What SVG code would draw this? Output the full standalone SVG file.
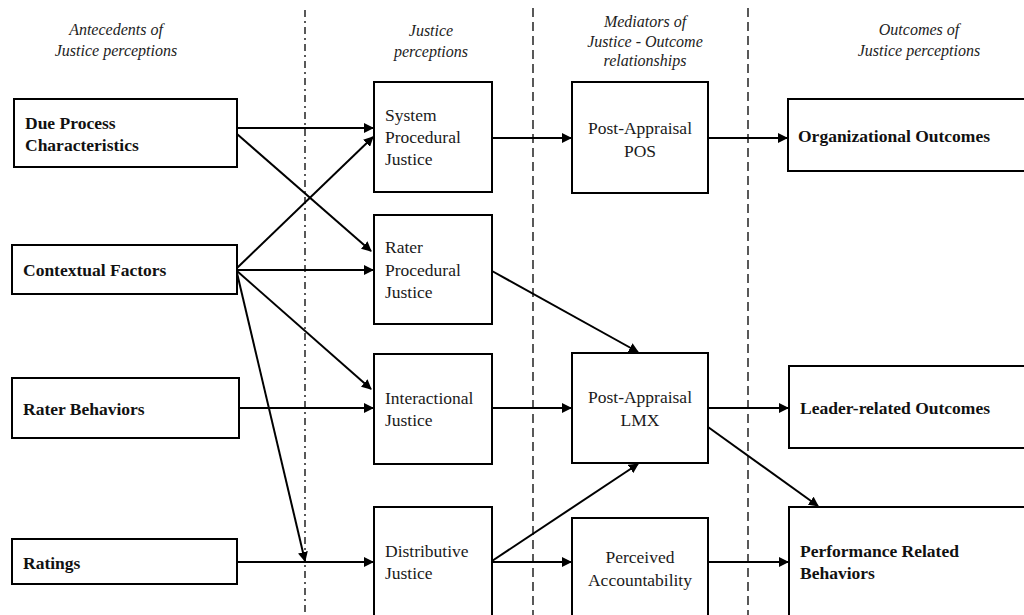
<svg xmlns="http://www.w3.org/2000/svg" width="1024" height="615" viewBox="0 0 1024 615">
<style>
.box{fill:#fff;stroke:#000;stroke-width:2}
.t{font-family:"Liberation Serif",serif;font-size:17.5px;fill:#1a1a1a}
.b{font-family:"Liberation Serif",serif;font-size:17.5px;font-weight:bold;fill:#111}
.h{font-family:"Liberation Serif",serif;font-size:16px;font-style:italic;fill:#222;text-anchor:middle}
.c{text-anchor:middle}
.e{stroke:#000;stroke-width:2;fill:none;marker-end:url(#ah)}
.sep{stroke:#000;stroke-width:1.3;fill:none}
</style>
<defs>
<marker id="ah" viewBox="0 0 10 10" refX="9" refY="5" markerWidth="5" markerHeight="5" orient="auto" markerUnits="strokeWidth">
<path d="M0,0 L10,5 L0,10 z" fill="#000"/>
</marker>
</defs>
<rect width="1024" height="615" fill="#fff"/>
<g id="headers">
<text class="h" x="116" y="35">Antecedents of</text>
<text class="h" x="116" y="56">Justice perceptions</text>
<text class="h" x="431" y="36">Justice</text>
<text class="h" x="431" y="57">perceptions</text>
<text class="h" x="645" y="27">Mediators of</text>
<text class="h" x="645" y="47">Justice - Outcome</text>
<text class="h" x="645" y="66">relationships</text>
<text class="h" x="919" y="35">Outcomes of</text>
<text class="h" x="919" y="56">Justice perceptions</text>
</g>
<g id="separators">
<line class="sep" x1="305" y1="10" x2="305" y2="615" stroke-dasharray="7,4,2,4"/>
<line class="sep" x1="533" y1="8" x2="533" y2="615" stroke-dasharray="9,5"/>
<line class="sep" x1="748" y1="8" x2="748" y2="615" stroke-dasharray="9,5"/>
</g>
<g id="connectors">
<line class="e" x1="237" y1="128" x2="373" y2="128"/>
<line class="e" x1="237" y1="134" x2="371" y2="251"/>
<line class="e" x1="237" y1="268" x2="373" y2="137"/>
<line class="e" x1="237" y1="270" x2="373" y2="270"/>
<line class="e" x1="237" y1="271" x2="371" y2="389"/>
<line class="e" x1="237" y1="273" x2="305" y2="561"/>
<line class="e" x1="239" y1="408" x2="373" y2="408"/>
<line class="e" x1="237" y1="562" x2="373" y2="562"/>
<line class="e" x1="492" y1="138" x2="571" y2="138"/>
<line class="e" x1="492" y1="271" x2="638" y2="352"/>
<line class="e" x1="492" y1="408" x2="571" y2="408"/>
<line class="e" x1="492" y1="561" x2="638" y2="464"/>
<line class="e" x1="492" y1="562" x2="571" y2="562"/>
<line class="e" x1="708" y1="138" x2="787" y2="138"/>
<line class="e" x1="708" y1="408" x2="788" y2="408"/>
<line class="e" x1="708" y1="427" x2="818" y2="506"/>
<line class="e" x1="708" y1="562" x2="788" y2="562"/>
</g>
<g id="due-process">
<rect class="box" x="14" y="99" width="223" height="68"/>
<text class="b" x="25" y="129">Due Process</text>
<text class="b" x="25" y="151">Characteristics</text>
</g>
<g id="contextual">
<rect class="box" x="12" y="245" width="225" height="49"/>
<text class="b" x="23" y="276">Contextual Factors</text>
</g>
<g id="rater-behaviors">
<rect class="box" x="12" y="378" width="227" height="60"/>
<text class="b" x="23" y="415">Rater Behaviors</text>
</g>
<g id="ratings">
<rect class="box" x="12" y="539" width="225" height="45"/>
<text class="b" x="23" y="569">Ratings</text>
</g>
<g id="system-procedural">
<rect class="box" x="374" y="82" width="118" height="110"/>
<text class="t" x="385" y="121">System</text>
<text class="t" x="385" y="143">Procedural</text>
<text class="t" x="385" y="165">Justice</text>
</g>
<g id="rater-procedural">
<rect class="box" x="374" y="215" width="118" height="109"/>
<text class="t" x="385" y="253">Rater</text>
<text class="t" x="385" y="276">Procedural</text>
<text class="t" x="385" y="298">Justice</text>
</g>
<g id="interactional">
<rect class="box" x="374" y="354" width="118" height="110"/>
<text class="t" x="385" y="404">Interactional</text>
<text class="t" x="385" y="426">Justice</text>
</g>
<g id="distributive">
<rect class="box" x="374" y="507" width="118" height="120"/>
<text class="t" x="385" y="557">Distributive</text>
<text class="t" x="385" y="579">Justice</text>
</g>
<g id="pos">
<rect class="box" x="572" y="82" width="136" height="111"/>
<text class="t c" x="640" y="134">Post-Appraisal</text>
<text class="t c" x="640" y="157">POS</text>
</g>
<g id="lmx">
<rect class="box" x="572" y="353" width="136" height="110"/>
<text class="t c" x="640" y="403">Post-Appraisal</text>
<text class="t c" x="640" y="426">LMX</text>
</g>
<g id="accountability">
<rect class="box" x="572" y="518" width="136" height="110"/>
<text class="t c" x="640" y="563">Perceived</text>
<text class="t c" x="640" y="586">Accountability</text>
</g>
<g id="organizational">
<rect class="box" x="788" y="99" width="245" height="72"/>
<text class="b" x="798" y="142">Organizational Outcomes</text>
</g>
<g id="leader">
<rect class="box" x="789" y="366" width="245" height="82"/>
<text class="b" x="800" y="414">Leader-related Outcomes</text>
</g>
<g id="performance">
<rect class="box" x="789" y="507" width="245" height="120"/>
<text class="b" x="800" y="557">Performance Related</text>
<text class="b" x="800" y="579">Behaviors</text>
</g>
</svg>
